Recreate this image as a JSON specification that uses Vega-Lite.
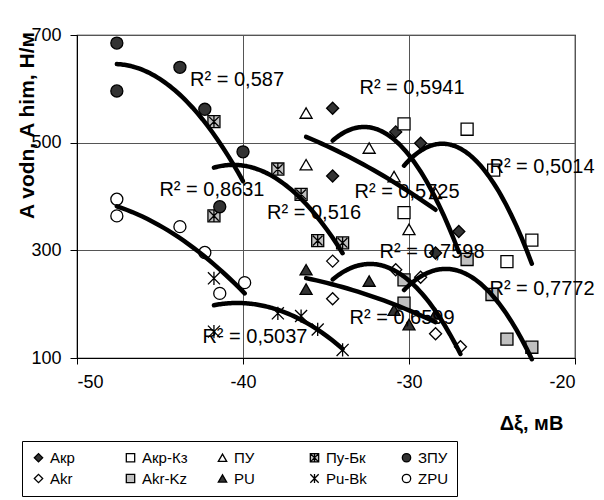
{
  "$schema": "https://vega.github.io/schema/vega-lite/v6.json",
  "width": 498,
  "height": 323,
  "autosize": {"type": "none"},
  "padding": {"left": 77, "top": 35, "right": 29, "bottom": 142},
  "background": "white",
  "config": {
    "font": "Liberation Sans",
    "view": {"stroke": "black", "strokeWidth": 1.2},
    "axis": {
      "labelFont": "Liberation Sans",
      "labelFontSize": 18,
      "labelColor": "black",
      "titleColor": "black",
      "titleFont": "Liberation Sans",
      "domainColor": "black",
      "tickColor": "black",
      "gridColor": "#555555",
      "gridWidth": 1,
      "gridOpacity": 1
    }
  },
  "datasets": {
    "pts": [
      {"s": "Акр", "x": -34.6, "y": 564}, {"s": "Акр", "x": -34.6, "y": 438}, {"s": "Акр", "x": -30.8, "y": 520}, {"s": "Акр", "x": -29.3, "y": 499}, {"s": "Акр", "x": -28.4, "y": 295}, {"s": "Акр", "x": -27.0, "y": 335},
      {"s": "Акр-Кз", "x": -30.3, "y": 535}, {"s": "Акр-Кз", "x": -30.3, "y": 370}, {"s": "Акр-Кз", "x": -26.5, "y": 525}, {"s": "Акр-Кз", "x": -24.9, "y": 449}, {"s": "Акр-Кз", "x": -24.1, "y": 279}, {"s": "Акр-Кз", "x": -22.6, "y": 319},
      {"s": "ПУ", "x": -36.2, "y": 555}, {"s": "ПУ", "x": -36.2, "y": 459}, {"s": "ПУ", "x": -32.4, "y": 490}, {"s": "ПУ", "x": -30.9, "y": 437}, {"s": "ПУ", "x": -30.0, "y": 339}, {"s": "ПУ", "x": -28.4, "y": 406},
      {"s": "Пу-Бк", "x": -41.75, "y": 539}, {"s": "Пу-Бк", "x": -41.75, "y": 364}, {"s": "Пу-Бк", "x": -37.9, "y": 451}, {"s": "Пу-Бк", "x": -36.5, "y": 404}, {"s": "Пу-Бк", "x": -35.5, "y": 318}, {"s": "Пу-Бк", "x": -34.0, "y": 314},
      {"s": "ЗПУ", "x": -47.6, "y": 685}, {"s": "ЗПУ", "x": -47.6, "y": 596}, {"s": "ЗПУ", "x": -43.8, "y": 640}, {"s": "ЗПУ", "x": -42.3, "y": 562}, {"s": "ЗПУ", "x": -41.4, "y": 381}, {"s": "ЗПУ", "x": -40.0, "y": 483},
      {"s": "Akr", "x": -34.6, "y": 280}, {"s": "Akr", "x": -34.6, "y": 210}, {"s": "Akr", "x": -30.8, "y": 264}, {"s": "Akr", "x": -29.3, "y": 250}, {"s": "Akr", "x": -28.4, "y": 145}, {"s": "Akr", "x": -26.9, "y": 121},
      {"s": "Akr-Kz", "x": -30.3, "y": 245}, {"s": "Akr-Kz", "x": -30.3, "y": 202}, {"s": "Akr-Kz", "x": -26.5, "y": 283}, {"s": "Akr-Kz", "x": -25.0, "y": 218}, {"s": "Akr-Kz", "x": -24.1, "y": 135}, {"s": "Akr-Kz", "x": -22.6, "y": 120},
      {"s": "PU", "x": -36.2, "y": 264}, {"s": "PU", "x": -36.2, "y": 228}, {"s": "PU", "x": -32.4, "y": 243}, {"s": "PU", "x": -30.9, "y": 189}, {"s": "PU", "x": -30.0, "y": 162}, {"s": "PU", "x": -28.4, "y": 182},
      {"s": "Pu-Bk", "x": -41.75, "y": 248}, {"s": "Pu-Bk", "x": -41.75, "y": 149}, {"s": "Pu-Bk", "x": -37.9, "y": 183}, {"s": "Pu-Bk", "x": -36.5, "y": 178}, {"s": "Pu-Bk", "x": -35.5, "y": 153}, {"s": "Pu-Bk", "x": -34.0, "y": 115},
      {"s": "ZPU", "x": -47.6, "y": 395}, {"s": "ZPU", "x": -47.6, "y": 364}, {"s": "ZPU", "x": -43.8, "y": 344}, {"s": "ZPU", "x": -42.3, "y": 296}, {"s": "ZPU", "x": -41.4, "y": 220}, {"s": "ZPU", "x": -39.9, "y": 240}
    ],
    "labels": [
      {"t": "R² = 0,587", "x": -40.36, "y": 616},
      {"t": "R² = 0,5941", "x": -29.82, "y": 602},
      {"t": "R² = 0,8631", "x": -41.87, "y": 412},
      {"t": "R² = 0,516", "x": -35.72, "y": 369},
      {"t": "R² = 0,5725", "x": -30.12, "y": 408},
      {"t": "R² = 0,5014", "x": -21.99, "y": 455},
      {"t": "R² = 0,7598", "x": -28.61, "y": 297},
      {"t": "R² = 0,7772", "x": -21.99, "y": 228},
      {"t": "R² = 0,6599", "x": -30.42, "y": 174},
      {"t": "R² = 0,5037", "x": -39.28, "y": 139}
    ]
  },
  "encoding": {
    "x": {
      "field": "x", "type": "quantitative",
      "scale": {"domain": [-50, -20], "nice": false, "zero": false},
      "axis": {
        "values": [-50, -40, -30, -20],
        "labelExpr": "'' + datum.value",
        "title": "Δξ, мВ",
        "titleFontSize": 20,
        "titleFontWeight": "bold",
        "titleX": 454,
        "titleY": 65,
        "titleAlign": "center",
        "titleBaseline": "middle",
        "tickSize": 6,
        "labelPadding": 9,
        "grid": true
      }
    },
    "y": {
      "field": "y", "type": "quantitative",
      "scale": {"domain": [100, 700], "nice": false, "zero": false},
      "axis": {
        "values": [100, 300, 500, 700],
        "labelExpr": "'' + datum.value",
        "title": "A vodn, A him, Н/м",
        "titleFontSize": 21,
        "titleFontWeight": "bold",
        "titleAngle": 270,
        "titleX": -50,
        "titleY": 90,
        "titleAlign": "center",
        "titleBaseline": "middle",
        "tickSize": 7,
        "labelPadding": 9,
        "grid": true
      }
    }
  },
  "layer": [
    {
      "data": {"name": "pts"},
      "mark": {"type": "point", "filled": true, "size": 145, "strokeWidth": 1.3, "opacity": 1},
      "encoding": {
        "shape": {
          "field": "s", "type": "nominal",
          "scale": {
            "domain": ["Акр", "Акр-Кз", "ПУ", "Пу-Бк", "ЗПУ", "Akr", "Akr-Kz", "PU", "Pu-Bk", "ZPU"],
            "range": ["diamond", "square", "triangle-up", "M-1,-1L1,-1L1,1L-1,1Z M-0.8,-0.8L0.8,0.8 M-0.8,0.8L0.8,-0.8 M0,-1L0,1", "circle", "diamond", "square", "triangle-up", "M-1,-1L1,1 M-1,1L1,-1 M0,-1.1L0,1.1", "circle"]
          },
          "legend": {
            "orient": "none",
            "legendX": -55,
            "legendY": 406,
            "direction": "horizontal",
            "columns": 5,
            "title": null,
            "strokeColor": "black",
            "fillColor": "white",
            "padding": 9,
            "gridAlign": "all",
            "columnPadding": 27,
            "rowPadding": 5,
            "labelFont": "Liberation Sans",
            "labelFontSize": 15,
            "labelColor": "black",
            "labelOffset": 4,
            "symbolSize": 70,
            "symbolStrokeWidth": 1.3
          }
        },
        "fill": {
          "field": "s", "type": "nominal",
          "scale": {
            "domain": ["Акр", "Акр-Кз", "ПУ", "Пу-Бк", "ЗПУ", "Akr", "Akr-Kz", "PU", "Pu-Bk", "ZPU"],
            "range": ["#333333", "#ffffff", "#ffffff", "#c0c0c0", "#333333", "#ffffff", "#c0c0c0", "#333333", "#ffffff", "#ffffff"]
          }
        },
        "stroke": {
          "field": "s", "type": "nominal",
          "scale": {
            "domain": ["Акр", "Акр-Кз", "ПУ", "Пу-Бк", "ЗПУ", "Akr", "Akr-Kz", "PU", "Pu-Bk", "ZPU"],
            "range": ["#000000", "#000000", "#000000", "#000000", "#000000", "#000000", "#000000", "#000000", "#000000", "#000000"]
          }
        }
      }
    },
    {
      "data": {"name": "pts"},
      "transform": [
        {"regression": "y", "on": "x", "groupby": ["s"], "method": "poly", "order": 2}
      ],
      "mark": {"type": "line", "color": "black", "strokeWidth": 4.5, "strokeCap": "round"},
      "encoding": {"detail": {"field": "s", "type": "nominal"}}
    },
    {
      "data": {"name": "labels"},
      "mark": {"type": "text", "fontSize": 20, "font": "Liberation Sans", "color": "black", "align": "center", "baseline": "middle"},
      "encoding": {"text": {"field": "t", "type": "nominal"}}
    }
  ]
}
